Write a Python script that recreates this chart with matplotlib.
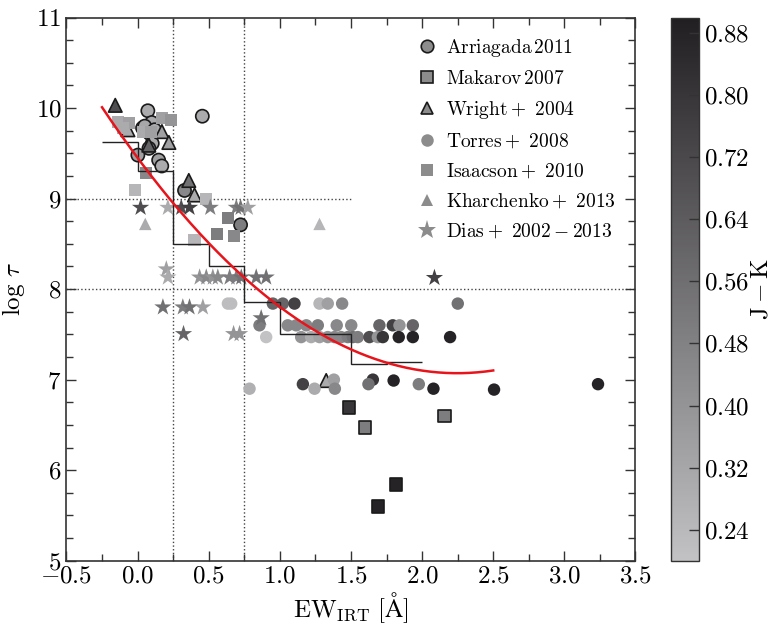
import matplotlib
matplotlib.use("Agg")
import matplotlib.pyplot as plt
import numpy as np
from matplotlib.colors import LinearSegmentedColormap, Normalize
from matplotlib.cm import ScalarMappable
from matplotlib.lines import Line2D

plt.rcParams['font.family'] = 'serif'
plt.rcParams['font.serif'] = ['cmr10']
plt.rcParams['mathtext.fontset'] = 'cm'
plt.rcParams['axes.formatter.use_mathtext'] = True

# ---------------- data ----------------
arr_x = [0.072, 0.100, 0.035, 0.084, 0.455, 0.103, 0.080, 0.002, 0.148, 0.170, 0.330, 0.724, 0.050, 0.120]
arr_y = [9.97, 9.84, 9.78, 9.72, 9.91, 9.61, 9.555, 9.48, 9.425, 9.36, 9.09, 8.71, 9.80, 9.76]
arr_c = [0.30, 0.30, 0.35, 0.30, 0.30, 0.30, 0.40, 0.35, 0.35, 0.30, 0.45, 0.50, 0.32, 0.30]

mak_x = [1.485, 1.600, 2.157, 1.818, 1.689]
mak_y = [6.69, 6.47, 6.60, 5.84, 5.60]
mak_c = [0.80, 0.50, 0.50, 0.88, 0.88]

wri_x = [-0.157, -0.068, 0.171, 0.220, 0.079, 0.360, 0.400, 1.326]
wri_y = [10.03, 9.76, 9.74, 9.62, 9.59, 9.20, 9.04, 6.99]
wri_c = [0.70, 0.30, 0.35, 0.35, 0.60, 0.55, 0.30, 0.30]

tor_x = [0.635, 0.658, 0.951, 1.021, 1.103, 1.279, 1.337, 1.438, 2.251,
         0.857, 1.056, 1.115, 1.186, 1.267, 1.400, 1.502, 1.700, 1.794, 1.841, 1.935,
         0.904, 1.150, 1.220, 1.279, 1.337, 1.384, 1.431, 1.478, 1.513, 1.548, 1.630,
         1.689, 1.724, 1.836, 1.935, 2.197,
         0.787, 1.162, 1.244, 1.380, 1.387, 1.654, 1.623, 1.800, 1.977, 2.080, 2.506, 3.237]
tor_y = [7.84, 7.84, 7.84, 7.84, 7.84, 7.84, 7.84, 7.84, 7.84,
         7.60, 7.60, 7.60, 7.60, 7.60, 7.60, 7.60, 7.60, 7.60, 7.60, 7.60,
         7.47, 7.47, 7.47, 7.47, 7.47, 7.47, 7.47, 7.47, 7.47, 7.47, 7.47,
         7.47, 7.47, 7.47, 7.47, 7.47,
         6.90, 6.95, 6.90, 7.00, 6.90, 7.00, 6.95, 6.99, 6.95, 6.90, 6.89, 6.95]
tor_c = [0.22, 0.22, 0.60, 0.60, 0.75, 0.25, 0.35, 0.45, 0.55,
         0.50, 0.45, 0.45, 0.45, 0.50, 0.45, 0.45, 0.60, 0.75, 0.40, 0.60,
         0.20, 0.40, 0.30, 0.35, 0.40, 0.45, 0.45, 0.50, 0.55, 0.50, 0.70,
         0.40, 0.80, 0.88, 0.88, 0.88,
         0.28, 0.75, 0.30, 0.35, 0.45, 0.80, 0.55, 0.88, 0.50, 0.88, 0.88, 0.88]

isa_x = [-0.138, -0.061, -0.100, 0.171, 0.232, 0.037, 0.096, 0.061, -0.021, 0.483, 0.635, 0.557, 0.675, 0.400]
isa_y = [9.85, 9.84, 9.78, 9.89, 9.87, 9.74, 9.74, 9.285, 9.09, 9.00, 8.79, 8.61, 8.585, 8.54]
isa_c = [0.30, 0.35, 0.30, 0.35, 0.40, 0.30, 0.35, 0.45, 0.25, 0.25, 0.50, 0.50, 0.45, 0.25]

kha_x = [0.054, 1.279]
kha_y = [8.72, 8.72]
kha_c = [0.30, 0.25]

dia_x = [0.021, 0.213, 0.307, 0.365, 0.511, 0.694, 0.724, 0.775,
         0.202,
         0.213, 0.436, 0.483, 0.529, 0.564, 0.647, 0.694, 0.729, 0.834, 0.904,
         2.087,
         0.178, 0.318, 0.365, 0.459,
         0.323, 0.675, 0.717,
         0.869]
dia_y = [8.90, 8.90, 8.90, 8.90, 8.90, 8.90, 8.90, 8.90,
         8.22,
         8.13, 8.13, 8.13, 8.13, 8.13, 8.13, 8.13, 8.13, 8.13, 8.13,
         8.125,
         7.80, 7.80, 7.80, 7.80,
         7.505, 7.505, 7.505,
         7.68]
dia_c = [0.70, 0.30, 0.70, 0.75, 0.50, 0.50, 0.55, 0.35,
         0.35,
         0.30, 0.40, 0.45, 0.40, 0.45, 0.50, 0.50, 0.55, 0.55, 0.55,
         0.75,
         0.55, 0.50, 0.55, 0.35,
         0.60, 0.40, 0.40,
         0.55]

step_edges = [-0.25, 0.0, 0.25, 0.5, 0.75, 1.0, 1.5, 1.75, 2.0]
step_vals = [9.62, 9.30, 8.50, 8.26, 7.855, 7.505, 7.17, 7.19]

fit_coef = [0.471, -2.117, 9.45]
fit_range = [-0.25, 2.5]

labels = [r'$\mathrm{Arriagada\,2011}$', r'$\mathrm{Makarov\,2007}$', r'$\mathrm{Wright+\ 2004}$',
          r'$\mathrm{Torres+\ 2008}$', r'$\mathrm{Isaacson+\ 2010}$', r'$\mathrm{Kharchenko+\ 2013}$',
          r'$\mathrm{Dias+\ 2002-2013}$']

# ---------------- figure ----------------
fig = plt.figure(figsize=(7.72, 6.30), dpi=100)
ax = fig.add_axes([0.0861, 0.110, 0.7370, 0.8622])
cax = fig.add_axes([0.8692, 0.110, 0.0363, 0.8622])

cmap = LinearSegmentedColormap.from_list('jk', [(0.76, 0.76, 0.77), (0.13, 0.12, 0.13)])
norm = Normalize(vmin=0.2, vmax=0.9)

# guide lines
ax.axvline(0.25, color='#444444', ls=':', lw=1.0, zorder=1)
ax.axvline(0.75, color='#444444', ls=':', lw=1.0, zorder=1)
ax.plot([-0.5, 1.5], [9, 9], color='#444444', ls=':', lw=1.0, zorder=1)
ax.plot([-0.5, 3.5], [8, 8], color='#444444', ls=':', lw=1.0, zorder=1)

edge_kw = dict(edgecolors='#1a1a1a', linewidths=1.2)
ax.scatter(arr_x, arr_y, c=arr_c, cmap=cmap, norm=norm, marker='o', s=90, zorder=2, **edge_kw)
ax.scatter(mak_x, mak_y, c=mak_c, cmap=cmap, norm=norm, marker='s', s=80, zorder=2, **edge_kw)
ax.scatter(wri_x, wri_y, c=wri_c, cmap=cmap, norm=norm, marker='^', s=95, zorder=2, **edge_kw)
ax.scatter(tor_x, tor_y, c=tor_c, cmap=cmap, norm=norm, marker='o', s=80, linewidths=0, zorder=3)
ax.scatter(isa_x, isa_y, c=isa_c, cmap=cmap, norm=norm, marker='s', s=75, linewidths=0, zorder=3)
ax.scatter(kha_x, kha_y, c=kha_c, cmap=cmap, norm=norm, marker='^', s=80, linewidths=0, zorder=3)
ax.scatter(dia_x, dia_y, c=dia_c, cmap=cmap, norm=norm, marker='*', s=170, linewidths=0, zorder=3)

ax.stairs(step_vals, step_edges, baseline=None, color='#222222', lw=1.0, zorder=4)
xf = np.linspace(fit_range[0], fit_range[1], 200)
ax.plot(xf, np.polyval(fit_coef, xf), color='#e8141c', lw=1.8, zorder=5)

ax.set_xlim(-0.5, 3.5)
ax.set_ylim(5, 11)
ax.set_xticks(np.arange(-0.5, 3.51, 0.5))
ax.set_xticks(np.arange(-0.5, 3.51, 0.25), minor=True)
ax.set_yticks(np.arange(5, 11.1, 1))
ax.set_yticks(np.arange(5, 11.01, 0.25), minor=True)
ax.tick_params(which='both', direction='in', top=True, right=True, labelsize=18, color='#333333')
ax.tick_params(which='major', length=7, width=1.0)
ax.tick_params(which='minor', length=5, width=1.0)
for sp in ax.spines.values():
    sp.set_linewidth(1.2)
    sp.set_color('#333333')
ax.xaxis.set_major_formatter(matplotlib.ticker.FuncFormatter(lambda v, p: r'$%.1f$' % v))
ax.yaxis.set_major_formatter(matplotlib.ticker.FuncFormatter(lambda v, p: r'$%d$' % round(v)))

ax.set_xlabel(r'$\mathrm{EW_{IRT}\ [\AA]}$', fontsize=18, labelpad=2)
ax.set_ylabel(r'$\log\,\tau$', fontsize=18, labelpad=6)

mfc = '#8c8c8c'
handles = [
    Line2D([], [], ls='none', marker='o', ms=9, mfc=mfc, mec='#1a1a1a', mew=1.2),
    Line2D([], [], ls='none', marker='s', ms=9, mfc=mfc, mec='#1a1a1a', mew=1.2),
    Line2D([], [], ls='none', marker='^', ms=9, mfc=mfc, mec='#1a1a1a', mew=1.2),
    Line2D([], [], ls='none', marker='o', ms=9, mfc=mfc, mew=0),
    Line2D([], [], ls='none', marker='s', ms=9, mfc=mfc, mew=0),
    Line2D([], [], ls='none', marker='^', ms=9, mfc=mfc, mew=0),
    Line2D([], [], ls='none', marker='*', ms=14, mfc=mfc, mew=0),
]
leg = ax.legend(handles, labels, loc='upper right', frameon=False, fontsize=14,
                handletextpad=0.4, labelspacing=0.57, borderaxespad=0.6, handlelength=1.2)

sm = ScalarMappable(norm=norm, cmap=cmap)
cb = fig.colorbar(sm, cax=cax)
cb.set_ticks([0.24, 0.32, 0.40, 0.48, 0.56, 0.64, 0.72, 0.80, 0.88])
cb.ax.yaxis.set_major_formatter(matplotlib.ticker.FuncFormatter(lambda v, p: r'$%.2f$' % v))
cb.ax.tick_params(direction='in', length=7, width=1.0, labelsize=18, color='#333333')
cb.outline.set_linewidth(1.0)
cb.outline.set_edgecolor('#333333')
cb.set_label(r'$\mathrm{J-K}$', fontsize=18)
cb.ax.yaxis.set_label_coords(2.83, 0.5)

fig.savefig('out.png', dpi=100)
